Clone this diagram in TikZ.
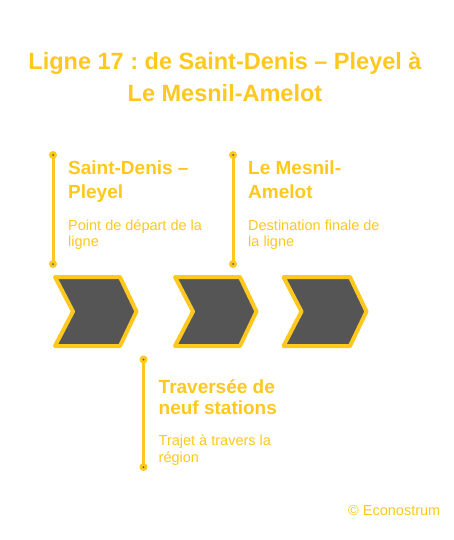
\documentclass[tikz,border=0pt]{standalone}
\usepackage{fontspec}
\setmainfont{Liberation Sans}
\definecolor{ylw}{RGB}{255,200,30}
\definecolor{chev}{RGB}{85,85,85}
\frenchspacing
\begin{document}
\begin{tikzpicture}[x=1pt,y=-1pt,
 titletxt/.style={anchor=base, font=\fontsize{23.5}{28}\selectfont\bfseries, text=ylw, inner sep=0},
 headtxt/.style={anchor=base west, font=\fontsize{19}{23}\selectfont\bfseries, text=ylw, inner sep=0},
 desctxt/.style={anchor=base west, font=\fontsize{14.5}{17}\selectfont, text=ylw, inner sep=0},
 chevron/.style={draw=ylw, fill=chev, line width=4pt, line join=round},
 rail/.style={draw=ylw, line width=3pt},
 dotnode/.style={circle, fill=ylw, inner sep=0, minimum size=8pt,
   path picture={\fill[chev] (path picture bounding box.center) circle (1pt);}}]
\useasboundingbox[fill=white] (0,0) rectangle (453,540);
% title
\node[titletxt] (t1) at (225,69.5) {Ligne 17 : de Saint-Denis – Pleyel à};
\node[titletxt] (t2) at (225,101.5) {Le Mesnil-Amelot};
% chevrons
\draw[chevron] (55,277) -- (120,277) -- (136.5,311.5) -- (120,346) -- (55,346) -- (73,311.5) -- cycle;
\draw[chevron] (175,277) -- (240,277) -- (256.5,311.5) -- (240,346) -- (175,346) -- (193,311.5) -- cycle;
\draw[chevron] (283.5,277) -- (350,277) -- (366.5,311.5) -- (350,346) -- (283.5,346) -- (301.5,311.5) -- cycle;
% rails
\coordinate (r1a) at (53,155);
\coordinate (r1b) at (53,264);
\coordinate (r2a) at (233,155);
\coordinate (r2b) at (233,264);
\coordinate (r3a) at (143.5,359.5);
\coordinate (r3b) at (143.5,467);
\draw[rail] (r1a) -- (r1b);
\draw[rail] (r2a) -- (r2b);
\draw[rail] (r3a) -- (r3b);
\node[dotnode] (d1a) at (r1a) {};
\node[dotnode] (d1b) at (r1b) {};
\node[dotnode] (d2a) at (r2a) {};
\node[dotnode] (d2b) at (r2b) {};
\node[dotnode] (d3a) at (r3a) {};
\node[dotnode] (d3b) at (r3b) {};
% texts
\node[headtxt] (h1a) at (68,175) {Saint-Denis –};
\node[headtxt] (h1b) at (68,198) {Pleyel};
\node[desctxt] (s1a) at (68,230) {Point de départ de la};
\node[desctxt] (s1b) at (68,246.5) {ligne};
\node[headtxt] (h2a) at (248,175) {Le Mesnil-};
\node[headtxt] (h2b) at (248,198) {Amelot};
\node[desctxt] (s2a) at (248,230) {Destination finale de};
\node[desctxt] (s2b) at (248,246.5) {la ligne};
\node[headtxt] (h3a) at (158.5,393) {Traversée de};
\node[headtxt] (h3b) at (158.5,414) {neuf stations};
\node[desctxt] (s3a) at (158.5,445) {Trajet à travers la};
\node[desctxt] (s3b) at (158.5,462) {région};
\node[desctxt] (cp) at (348,515) {© Econostrum};
\end{tikzpicture}
\end{document}
